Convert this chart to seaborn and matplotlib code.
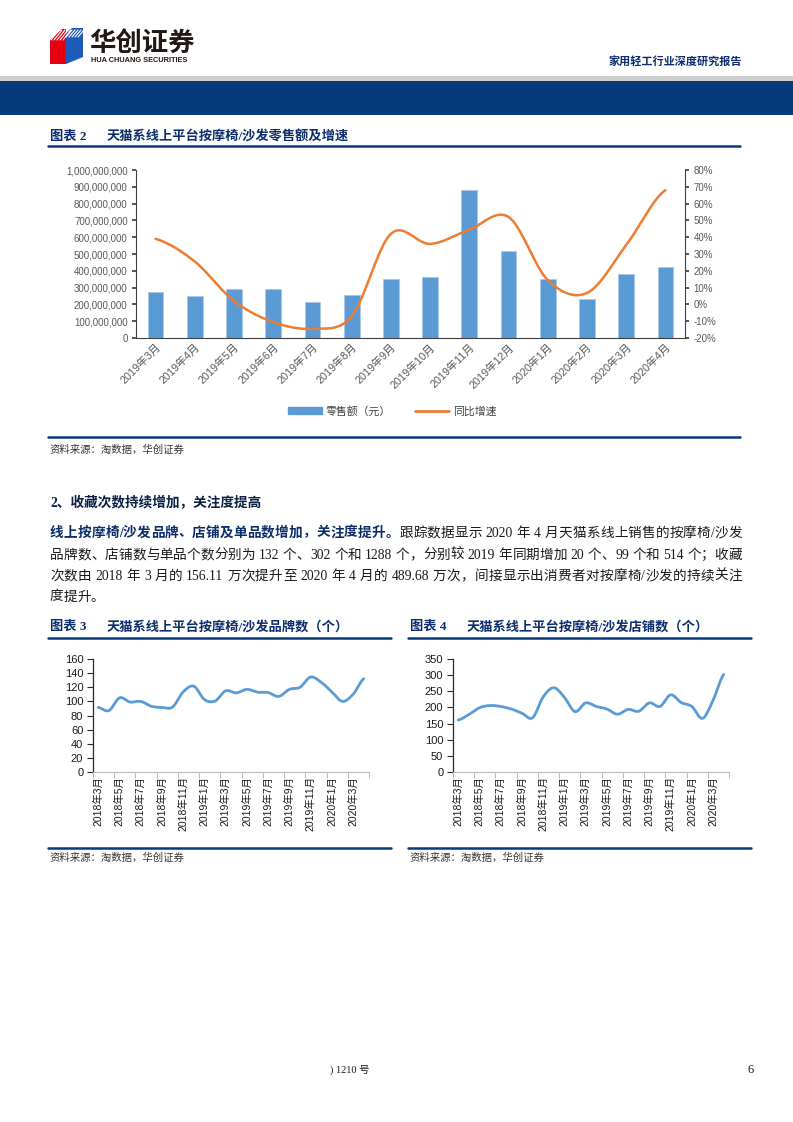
import re
import numpy as np
import pandas as pd
import seaborn as sns
import matplotlib.pyplot as plt
from matplotlib.patches import Rectangle, Polygon, Patch
from matplotlib.lines import Line2D
from matplotlib.ticker import FuncFormatter

# ---- data ----
months_2 = ['2019年3月', '2019年4月', '2019年5月', '2019年6月', '2019年7月', '2019年8月',
            '2019年9月', '2019年10月', '2019年11月', '2019年12月', '2020年1月', '2020年2月',
            '2020年3月', '2020年4月']
sales = [274e6, 249e6, 292e6, 292e6, 217e6, 258e6, 350e6, 364e6, 883e6, 517e6,
         354e6, 232e6, 383e6, 421e6]
growth = [0.39, 0.255, 0.02, -0.105, -0.145, -0.07, 0.42, 0.36, 0.445, 0.52,
          0.145, 0.068, 0.353, 0.68]

months_26 = ['2018年3月', '2018年4月', '2018年5月', '2018年6月', '2018年7月', '2018年8月',
             '2018年9月', '2018年10月', '2018年11月', '2018年12月', '2019年1月', '2019年2月',
             '2019年3月', '2019年4月', '2019年5月', '2019年6月', '2019年7月', '2019年8月',
             '2019年9月', '2019年10月', '2019年11月', '2019年12月', '2020年1月', '2020年2月',
             '2020年3月', '2020年4月']
brands = [91.5, 87, 105, 99, 100, 93, 91.5, 92, 113.5, 121.5, 102.5, 100.5, 115,
          112, 117, 113, 112.5, 107, 117, 120, 134.5, 127, 113.5, 100, 110, 132]
shops = [161, 178, 199, 206, 203, 195, 182, 168, 233, 261, 231, 187, 214, 203,
         195, 179, 194, 188, 214, 203, 239, 215, 203, 166, 222, 302]

BLUE = '#5B9BD5'
ORANGE = '#ED7D31'
NAVY = '#063A7A'
TITLE = '#0C2D6B'

sns.set_theme(style='ticks')
plt.rcParams['font.family'] = ['Liberation Sans', 'Noto Sans CJK SC']
plt.rcParams['axes.unicode_minus'] = False

W, H = 793, 1122
fig = plt.figure(figsize=(W / 100, H / 100), dpi=100)
bg = fig.add_axes([0, 0, 1, 1])
bg.set_xlim(0, W)
bg.set_ylim(H, 0)
bg.axis('off')


def box(x0, y0, x1, y1):
    return [x0 / W, 1 - y1 / H, (x1 - x0) / W, (y1 - y0) / H]


def smooth(vals, n=24):
    # catmull-rom curve through the points, like excel's smoothed line
    y = np.asarray(vals, float)
    p = np.concatenate([[y[0]], y, [y[-1]]])
    xs, ys = [], []
    t = np.linspace(0, 1, n, endpoint=False)
    for i in range(len(y) - 1):
        p0, p1, p2, p3 = p[i], p[i + 1], p[i + 2], p[i + 3]
        ys.append(0.5 * (2 * p1 + (-p0 + p2) * t + (2 * p0 - 5 * p1 + 4 * p2 - p3) * t ** 2
                         + (-p0 + 3 * p1 - 3 * p2 + p3) * t ** 3))
        xs.append(i + t)
    xs.append([len(y) - 1])
    ys.append([y[-1]])
    return np.concatenate(xs), np.concatenate(ys)


serif = ['Liberation Serif', 'Noto Sans CJK SC']


def text_line(segments, x0, y, x1=None, size=9.8):
    toks = []
    for s, kw in segments:
        for tk in re.findall(r'[0-9.]+|\s|.', s):
            toks.append((tk, kw))
    r = fig.canvas.get_renderer()
    items = []
    for tk, kw in toks:
        if tk.isspace():
            items.append((None, size * 1.389 * 0.25))
        else:
            t = bg.text(x0, y, tk, fontsize=size, va='center', ha='left', family=serif, **kw)
            items.append((t, t.get_window_extent(renderer=r).width))
    total = sum(w for _, w in items)
    gap = 0 if x1 is None else (x1 - x0 - total) / (len(items) - 1)
    x = x0
    for t, w in items:
        if t is not None:
            t.set_x(x)
        x += w + gap


# ---- header ----
bg.add_patch(Rectangle((0, 76), W, 5, color='#CFCFCF', lw=0))
bg.add_patch(Rectangle((0, 81), W, 34, color=NAVY, lw=0))
bg.add_patch(Polygon([(50, 40), (62, 29), (66, 29), (66, 64), (50, 64)], color='#E60012', lw=0))
bg.add_patch(Polygon([(66, 33), (72, 28), (83, 28), (83, 57), (66, 64)], color='#1E5BB8', lw=0))
for k in range(5):
    bg.plot([51 + 3 * k, 59 + 3 * k], [40, 30], color='white', lw=0.8)
    bg.plot([66 + 3 * k, 72 + 3 * k], [37, 30], color='white', lw=0.8)
bg.text(89, 43, '华创证券', fontsize=19, weight='bold', color='#231815', va='center')
bg.text(91, 60, 'HUA CHUANG SECURITIES', fontsize=5.3, weight='bold', color='#231815', va='center')
bg.text(742, 62, '家用轻工行业深度研究报告', fontsize=8, weight='bold', color=TITLE,
        va='center', ha='right', family=serif)

# ---- figure 2 ----
bg.text(50, 137, '图表 2', fontsize=9.5, weight='bold', color=TITLE, va='center', family=serif)
bg.text(107, 137, '天猫系线上平台按摩椅/沙发零售额及增速', fontsize=9.5, weight='bold',
        color=TITLE, va='center', family=serif)
bg.plot([48, 740], [146, 146], color=NAVY, lw=1.8)
bg.plot([48, 740], [437, 437], color=NAVY, lw=1.8)
bg.text(50, 450, '资料来源：淘数据，华创证券', fontsize=7.5, color='#333333', va='center')

ax = fig.add_axes(box(136, 170, 685, 338))
df2 = pd.DataFrame({'month': months_2, 'sales': sales, 'growth': growth})
sns.barplot(data=df2, x='month', y='sales', color=BLUE, saturation=1, width=0.4,
            edgecolor='#A9C8EA', linewidth=0.6, ax=ax)
ax.set_ylim(0, 1e9)
ax.set_yticks(np.arange(0, 1.0e9 + 1, 1e8))
ax.yaxis.set_major_formatter(FuncFormatter(lambda v, p: f'{v:,.0f}'))
ax.set_xlabel('')
ax.set_ylabel('')
ax.tick_params(axis='y', length=3, color='#404040', labelsize=7, labelcolor='#595959', pad=3)
ax.tick_params(axis='x', length=0, labelsize=7.8, labelcolor='#595959', pad=3)
for lab in ax.get_xticklabels():
    lab.set_rotation(45)
    lab.set_ha('right')
    lab.set_rotation_mode('anchor')
for s in ['top', 'right']:
    ax.spines[s].set_visible(False)
ax.spines['left'].set_color('#404040')
ax.spines['bottom'].set_color('#404040')
ax.spines['left'].set_linewidth(0.8)
ax.spines['bottom'].set_linewidth(0.8)

ax2 = ax.twinx()
gx, gy = smooth(growth)
sns.lineplot(x=gx, y=gy, color=ORANGE, lw=1.8, ax=ax2)
ax2.set_ylim(-0.2, 0.8)
ax2.set_yticks(np.arange(-0.2, 0.81, 0.1))
ax2.yaxis.set_major_formatter(FuncFormatter(lambda v, p: f'{v * 100:.0f}%'))
ax2.tick_params(axis='y', length=3, color='#404040', labelsize=7, labelcolor='#595959', pad=3)
for s in ['top', 'left', 'bottom']:
    ax2.spines[s].set_visible(False)
ax2.spines['right'].set_color('#404040')
ax2.spines['right'].set_linewidth(0.8)
ax.set_xlim(-0.5, len(months_2) - 0.5)

handles = [Patch(color=BLUE), Line2D([], [], color=ORANGE, lw=2)]
fig.legend(handles, ['零售额（元）', '同比增速'], loc='center', bbox_to_anchor=(392 / W, 1 - 411 / H),
           ncol=2, frameon=False, fontsize=7.8, handlelength=3.2, handleheight=0.6,
           columnspacing=2.2, handletextpad=0.3, labelcolor='#404040')

# ---- text ----
bg.text(50, 503, '2、收藏次数持续增加，关注度提高', fontsize=9.8, weight='bold', color='#0C1F45',
        va='center', family=serif)
body = dict(color='#1A1A1A')
bold = dict(color=TITLE, weight='bold')
text_line([('线上按摩椅/沙发品牌、店铺及单品数增加，关注度提升。', bold),
           ('跟踪数据显示 2020 年 4 月天猫系线上销售的按摩椅/沙发', body)], 50, 533, 742)
text_line([('品牌数、店铺数与单品个数分别为 132 个、302 个和 1288 个，分别较 2019 年同期增加 20 个、99 个和 514 个；收藏', body)],
          50, 555, 742)
text_line([('次数由 2018 年 3 月的 156.11 万次提升至 2020 年 4 月的 489.68 万次，间接显示出消费者对按摩椅/沙发的持续关注', body)],
          50, 576, 742)
text_line([('度提升。', body)], 50, 597)


# ---- figures 3 and 4 ----
def small_chart(x0, title_no, title, values, ymax, step):
    bg.text(x0, 627, f'图表 {title_no}', fontsize=9.5, weight='bold', color=TITLE, va='center', family=serif)
    bg.text(x0 + 57, 627, title, fontsize=9.5, weight='bold', color=TITLE, va='center', family=serif)
    bg.plot([x0 - 2, x0 + 341], [638, 638], color=NAVY, lw=1.8)
    bg.plot([x0 - 2, x0 + 341], [848, 848], color=NAVY, lw=1.8)
    bg.text(x0, 858, '资料来源：淘数据，华创证券', fontsize=7.5, color='#333333', va='center')

    a = fig.add_axes(box(x0 + 43, 659, x0 + 319, 772))
    lx, ly = smooth(values)
    sns.lineplot(x=lx, y=ly, color=BLUE, lw=2, ax=a)
    a.set_xlim(-0.5, len(values) - 0.5)
    a.set_ylim(0, ymax)
    a.set_yticks(range(0, ymax + 1, step))
    a.set_xticks(np.arange(0, len(values), 2))
    a.set_xticklabels(months_26[::2], rotation=90)
    a.set_xticks(np.arange(-0.5, len(values), 2), minor=True)
    a.tick_params(axis='x', which='major', length=0, pad=3, labelsize=7.5, labelcolor='#1A1A1A')
    a.tick_params(axis='x', which='minor', length=4, color='#BFBFBF', width=0.8)
    a.tick_params(axis='y', length=4, color='#262626', width=0.8, labelsize=8,
                  labelcolor='#1A1A1A', pad=3)
    for s in ['top', 'right']:
        a.spines[s].set_visible(False)
    a.spines['left'].set_color('#262626')
    a.spines['left'].set_linewidth(0.9)
    a.spines['bottom'].set_color('#BFBFBF')
    a.spines['bottom'].set_linewidth(0.9)


small_chart(50, 3, '天猫系线上平台按摩椅/沙发品牌数（个）', brands, 160, 20)
small_chart(410, 4, '天猫系线上平台按摩椅/沙发店铺数（个）', shops, 350, 50)

# ---- footer ----
bg.text(330, 1070, ') 1210 号', fontsize=7.5, color='#1A1A1A', va='center', family=serif)
bg.text(748, 1070, '6', fontsize=9, color='#1A1A1A', va='center', family=serif)

fig.savefig('out.png', dpi=100)
